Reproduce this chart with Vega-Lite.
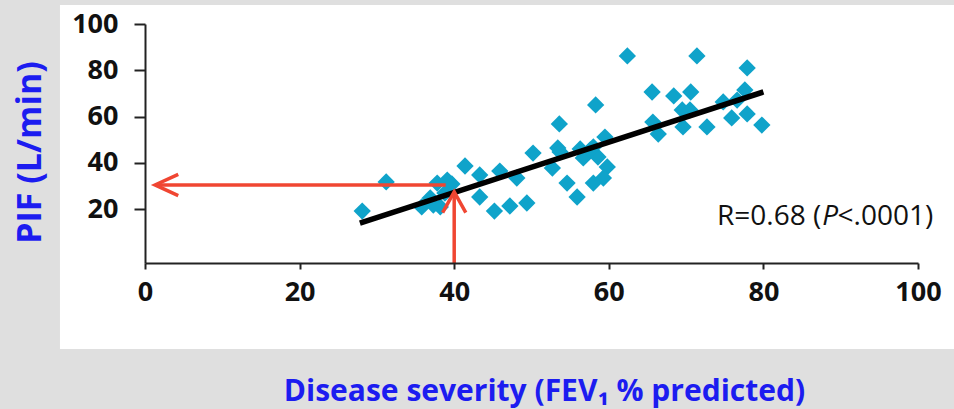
{
  "$schema": "https://vega.github.io/schema/vega-lite/v6.json",
  "autosize": "none",
  "width": 773,
  "height": 239,
  "padding": {"left": 145, "top": 24, "right": 36, "bottom": 146},
  "background": "#dfdfdf",
  "config": {
    "view": {"stroke": null},
    "axis": {
      "zindex": 1,
      "grid": false,
      "domainColor": "#222222",
      "domainWidth": 2,
      "tickColor": "#222222",
      "tickWidth": 2,
      "labelFont": "Open Sans",
      "labelFontSize": 27,
      "labelFontWeight": "bold",
      "labelColor": "#111111",
      "labelFlush": false,
      "labelOverlap": false,
      "titleFont": "Open Sans",
      "titleFontWeight": "bold",
      "titleColor": "#1c1cf0",
      "titleFontSize": 30
    }
  },
  "datasets": {
    "panel": [{"x": -11, "x2": 104.7, "y": 108.2, "y2": -40.5}],
    "points": [
      {"fev1": 28.1, "pif": 19.1}, {"fev1": 31.2, "pif": 31.7}, {"fev1": 35.8, "pif": 20.9},
      {"fev1": 36.9, "pif": 24.8}, {"fev1": 38.2, "pif": 20.9}, {"fev1": 37.8, "pif": 31.2},
      {"fev1": 39.1, "pif": 32.5}, {"fev1": 38.8, "pif": 26.9}, {"fev1": 41.4, "pif": 38.6},
      {"fev1": 43.3, "pif": 34.7}, {"fev1": 43.3, "pif": 25.2}, {"fev1": 45.2, "pif": 19.1},
      {"fev1": 45.9, "pif": 36.4}, {"fev1": 47.2, "pif": 21.3}, {"fev1": 48.1, "pif": 33.4},
      {"fev1": 49.4, "pif": 22.6}, {"fev1": 50.2, "pif": 44.2}, {"fev1": 52.7, "pif": 37.7},
      {"fev1": 53.4, "pif": 46.4}, {"fev1": 53.6, "pif": 56.8}, {"fev1": 54.6, "pif": 31.2},
      {"fev1": 55.9, "pif": 25.2}, {"fev1": 56.3, "pif": 46.0}, {"fev1": 58.0, "pif": 46.8},
      {"fev1": 56.7, "pif": 42.1}, {"fev1": 58.6, "pif": 42.5}, {"fev1": 58.3, "pif": 65.0},
      {"fev1": 59.5, "pif": 51.1}, {"fev1": 59.8, "pif": 38.2}, {"fev1": 59.3, "pif": 33.4},
      {"fev1": 58.0, "pif": 31.2}, {"fev1": 62.4, "pif": 86.2}, {"fev1": 65.6, "pif": 70.6},
      {"fev1": 65.7, "pif": 57.6}, {"fev1": 66.4, "pif": 52.4}, {"fev1": 68.4, "pif": 68.9},
      {"fev1": 70.6, "pif": 70.6}, {"fev1": 71.4, "pif": 86.2}, {"fev1": 69.5, "pif": 62.8},
      {"fev1": 70.5, "pif": 62.8}, {"fev1": 69.6, "pif": 55.5}, {"fev1": 72.7, "pif": 55.5},
      {"fev1": 74.8, "pif": 66.3}, {"fev1": 76.6, "pif": 67.1}, {"fev1": 77.6, "pif": 71.5},
      {"fev1": 77.9, "pif": 81.0}, {"fev1": 75.9, "pif": 59.4}, {"fev1": 77.9, "pif": 61.1},
      {"fev1": 79.8, "pif": 56.3}, {"fev1": 37.3, "pif": 21.7}, {"fev1": 39.7, "pif": 30.8},
      {"fev1": 53.7, "pif": 44.7}, {"fev1": 57.6, "pif": 45.5}
    ],
    "fit": [{"fev1": 27.8, "pif": 13.9}, {"fev1": 80.0, "pif": 70.6}],
    "arrows": [
      {"part": "h-shaft", "order": 1, "fev1": 1.3, "pif": 30.4},
      {"part": "h-shaft", "order": 2, "fev1": 38.9, "pif": 30.4},
      {"part": "h-head", "order": 1, "fev1": 4.3, "pif": 35.0},
      {"part": "h-head", "order": 2, "fev1": 1.3, "pif": 30.4},
      {"part": "h-head", "order": 3, "fev1": 4.3, "pif": 25.8},
      {"part": "v-shaft", "order": 1, "fev1": 40.0, "pif": -3.35},
      {"part": "v-shaft", "order": 2, "fev1": 40.0, "pif": 27.4},
      {"part": "v-head", "order": 1, "fev1": 38.5, "pif": 18.4},
      {"part": "v-head", "order": 2, "fev1": 40.0, "pif": 27.4},
      {"part": "v-head", "order": 3, "fev1": 41.5, "pif": 18.4}
    ],
    "label": [
      {"part": "R=0.68 (", "fev1": 74.0, "pif": 16.5},
      {"part": "<.0001)", "fev1": 89.6, "pif": 16.5}
    ],
    "labelItalic": [
      {"part": "P", "fev1": 87.6, "pif": 16.5}
    ]
  },
  "layer": [
    {
      "data": {"name": "panel"},
      "mark": {"type": "rect", "color": "white"},
      "encoding": {
        "x": {"field": "x", "type": "quantitative",
          "scale": {"domain": [0, 100], "nice": false, "zero": false},
          "axis": {
            "zindex": 2,
            "values": [0, 20, 40, 60, 80, 100],
            "tickSize": 6,
            "labelPadding": 10,
            "title": "Disease severity (FEV₁ % predicted)",
            "titleX": 399,
            "titleY": 128,
            "titleBaseline": "middle",
            "titleAlign": "center"
          }},
        "x2": {"field": "x2"},
        "y": {"field": "y", "type": "quantitative",
          "scale": {"domain": [-3.35, 100], "nice": false, "zero": false},
          "axis": {
            "zindex": 2,
            "values": [20, 40, 60, 80, 100],
            "tickSize": 11,
            "labelPadding": 16,
            "title": "PIF (L/min)",
            "titleFontSize": 34,
            "titleX": -115,
            "titleY": 128,
            "titleAngle": -90,
            "titleBaseline": "middle",
            "titleAlign": "center"
          }},
        "y2": {"field": "y2"}
      }
    },
    {
      "data": {"name": "points"},
      "mark": {"type": "point", "shape": "diamond", "filled": true, "size": 300, "color": "#0fa3ca", "opacity": 1},
      "encoding": {
        "x": {"field": "fev1", "type": "quantitative"},
        "y": {"field": "pif", "type": "quantitative"}
      }
    },
    {
      "data": {"name": "fit"},
      "mark": {"type": "line", "color": "#000000", "strokeWidth": 5.5},
      "encoding": {
        "x": {"field": "fev1", "type": "quantitative"},
        "y": {"field": "pif", "type": "quantitative"}
      }
    },
    {
      "data": {"name": "arrows"},
      "mark": {"type": "line", "color": "#f04632", "strokeWidth": 3.5, "strokeJoin": "miter", "strokeCap": "butt"},
      "encoding": {
        "x": {"field": "fev1", "type": "quantitative"},
        "y": {"field": "pif", "type": "quantitative"},
        "detail": {"field": "part", "type": "nominal"},
        "order": {"field": "order", "type": "quantitative"}
      }
    },
    {
      "data": {"name": "label"},
      "mark": {"type": "text", "align": "left", "baseline": "middle", "font": "Open Sans", "fontSize": 28, "color": "#111111"},
      "encoding": {
        "x": {"field": "fev1", "type": "quantitative"},
        "y": {"field": "pif", "type": "quantitative"},
        "text": {"field": "part"}
      }
    },
    {
      "data": {"name": "labelItalic"},
      "mark": {"type": "text", "align": "left", "baseline": "middle", "font": "Open Sans", "fontSize": 28, "fontStyle": "italic", "color": "#111111"},
      "encoding": {
        "x": {"field": "fev1", "type": "quantitative"},
        "y": {"field": "pif", "type": "quantitative"},
        "text": {"field": "part"}
      }
    }
  ]
}
